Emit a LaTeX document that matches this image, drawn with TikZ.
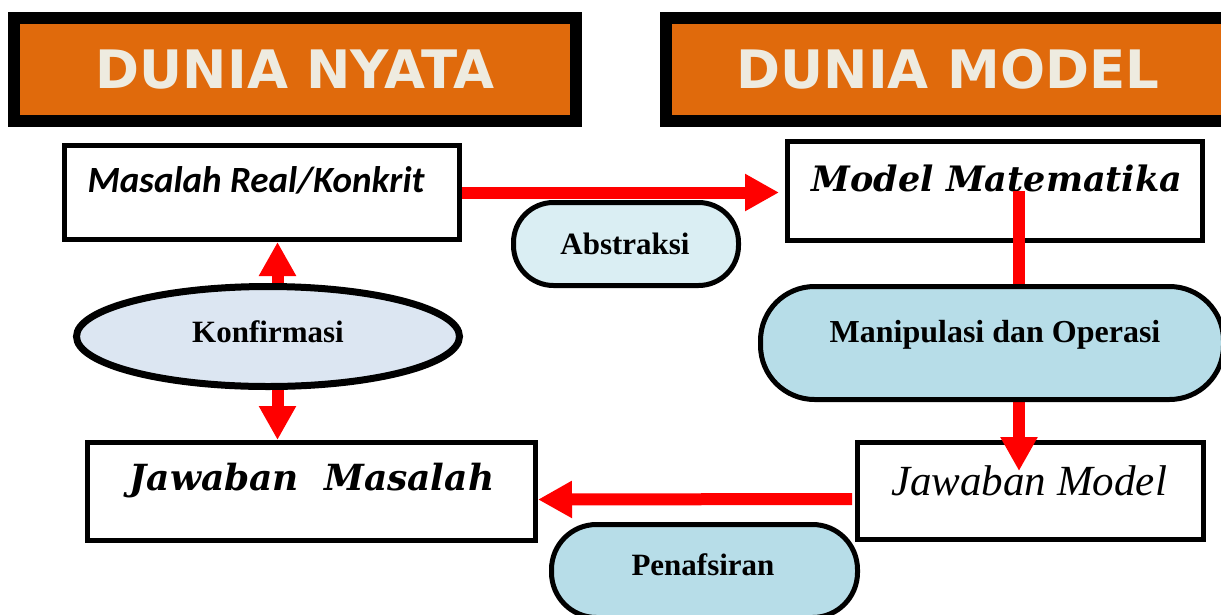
\documentclass[tikz,border=0pt]{standalone}
\usepackage{fontspec}
\setmainfont{Liberation Serif}
\newfontfamily\hdrfont{DejaVu Sans}
\newfontfamily\bookfont{DejaVu Serif}
\newfontfamily\calfont{Carlito}
\usetikzlibrary{arrows.meta,calc,shapes.geometric}
\definecolor{hdrorange}{RGB}{224,106,12}
\definecolor{hdrtext}{RGB}{238,235,224}
\definecolor{paleblue}{RGB}{218,238,243}
\definecolor{midblue}{RGB}{183,221,232}
\definecolor{ellblue}{RGB}{220,230,242}
\pgfdeclarelayer{front}
\pgfsetlayers{main,front}
\tikzset{
  hdr/.style={draw=black, fill=hdrorange, line width=12pt, inner sep=0pt,
    text=hdrtext, font=\hdrfont\bfseries\fontsize{53}{60}\selectfont},
  box/.style={draw=black, fill=white, line width=5pt, inner sep=0pt},
  pill/.style={draw=black, line width=5pt, inner sep=0pt},
  oval/.style={ellipse, draw=black, fill=ellblue, line width=7pt, inner sep=0pt},
  pilltext/.style={inner sep=0pt, anchor=base, font=\bfseries\fontsize{31}{35}\selectfont},
  redarrow/.style={draw=red, line width=12pt,
    -{Triangle[length=34pt,width=35pt]}},
  lbl/.style={inner sep=0pt, anchor=base}
}
\begin{document}
\begin{tikzpicture}[x=1pt,y=-1pt]
\useasboundingbox (0,0) rectangle (1221,614);
\clip (0,0) rectangle (1221,614);
% headers
\node[hdr, minimum width=562pt, minimum height=103pt] (h1) at (295,69.5) {DUNIA NYATA};
\node[hdr, minimum width=564pt, minimum height=103pt] (h2) at (948,69.5) {DUNIA MODEL};
% boxes
\node[box, minimum width=395pt, minimum height=94pt] (m1) at (262,192.5) {};
\node[lbl, font=\calfont\bfseries\itshape\fontsize{37}{42}\selectfont] (m1t) at (256,192) {Masalah Real/Konkrit};
\node[box, minimum width=415pt, minimum height=99pt] (m2) at (995,191) {};
\node[lbl, font=\bookfont\bfseries\itshape\fontsize{35}{42}\selectfont] (m2t) at (997,191) {Model Matematika};
\node[box, minimum width=346pt, minimum height=97pt] (j2) at (1030.5,491) {};
\node[lbl, font=\itshape\fontsize{43}{48}\selectfont] (j2t) at (1029,495) {Jawaban Model};
\node[box, minimum width=448pt, minimum height=98pt] (j1) at (311.5,491.5) {};
\node[lbl, font=\bookfont\bfseries\itshape\fontsize{36}{42}\selectfont] (j1t) at (312,490) {Jawaban\ \ Masalah};
% ovals
\begin{pgfonlayer}{front}
\node[pill, fill=paleblue, minimum width=225pt, minimum height=83pt, rounded corners=40pt] (abs) at (626,244) {};
\node[pilltext] at (625,254) {Abstraksi};
\node[pill, fill=midblue, minimum width=463pt, minimum height=113pt, rounded corners=54pt] (man) at (992,343) {};
\node[pilltext, font=\bfseries\fontsize{32}{36}\selectfont] at (995,342) {Manipulasi dan Operasi};
\node[pill, fill=midblue, minimum width=306pt, minimum height=93pt, rounded corners=45pt] (pen) at (704.5,571) {};
\node[pilltext] at (703,575) {Penafsiran};
\node[oval, minimum width=383pt, minimum height=100pt] (konf) at (268,336.5) {};
\node[pilltext] at (268,342) {Konfirmasi};
\end{pgfonlayer}
% connectors
\draw[redarrow, shorten >=6pt] (m1.east) -- (m1.east -| m2.west);
\coordinate (vtop) at ($(m2.center)+(24,0)$);
\draw[redarrow] (vtop) -- ($(vtop |- j2.north)+(0,31)$);
\draw[redarrow] ($(j2.west)+(-3,8)$) -- ($(j1.east)+(0,8)$);
\coordinate (kup) at ($(konf.north)+(9.5,10)$);
\coordinate (kdn) at ($(konf.south)+(9.5,-10)$);
\draw[redarrow] (kup) -- (kup |- m1.south);
\draw[redarrow] (kdn) -- (kdn |- j1.north);
\end{tikzpicture}
\end{document}
